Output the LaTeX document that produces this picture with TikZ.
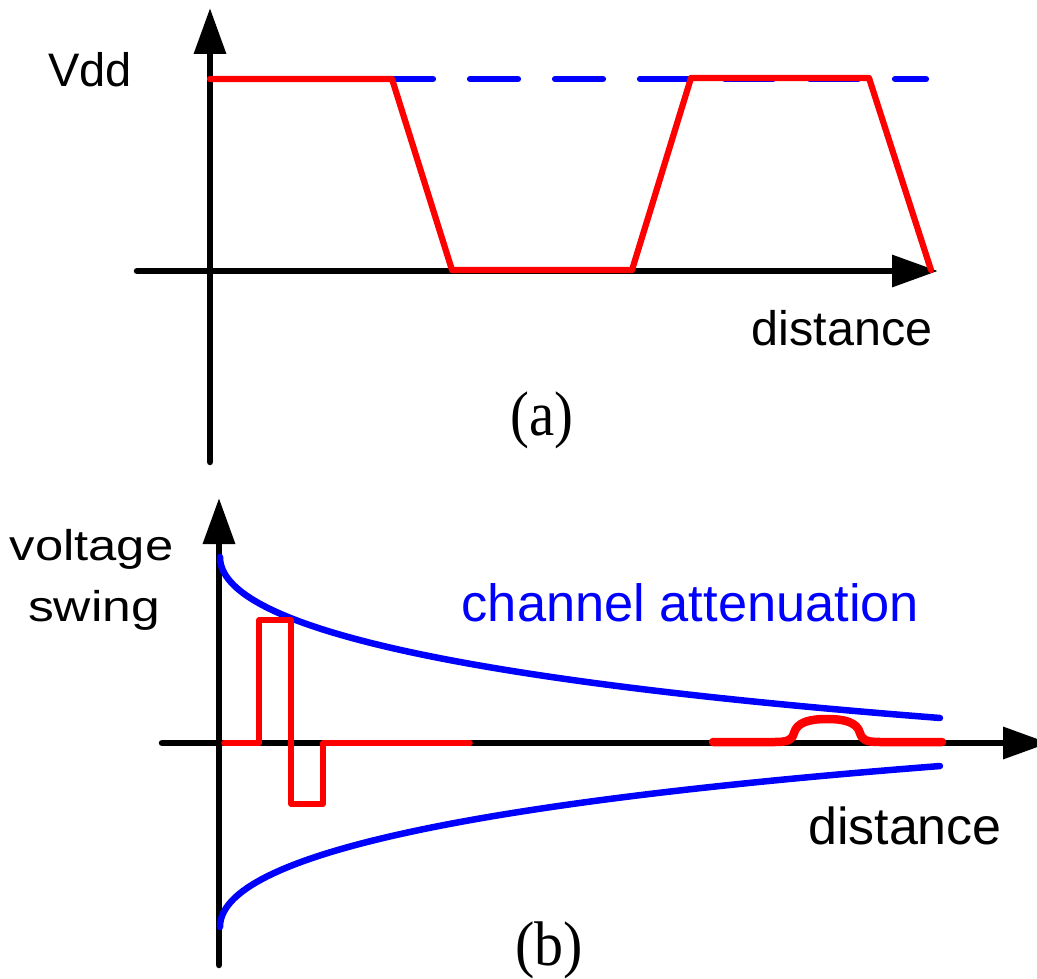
\documentclass[tikz,border=0pt]{standalone}
\usepackage{graphicx}
\usepackage{fontspec}
\setmainfont{Liberation Serif}
\newfontfamily\arialf{Liberation Sans}
\usetikzlibrary{arrows.meta}
\begin{document}
\begin{tikzpicture}[x=1pt,y=-1pt,
  axisline/.style={line width=6.5pt, line cap=round, -{Triangle[length=46pt,width=31pt]}},
  redsig/.style={draw=red, line width=6.2pt, line cap=round, line join=round},
  redthin/.style={draw=red, line width=5.5pt, line cap=round, line join=round},
  redthick/.style={draw=red, line width=8.5pt, line cap=round, line join=round},
  bluecurve/.style={draw=blue, line width=6.5pt, line cap=round},
  bluedash/.style={draw=blue, line width=6.2pt, line cap=round, dash pattern=on 48pt off 37pt},
  lbl/.style={anchor=base, inner sep=0pt, font=\arialf},
  captionlbl/.style={anchor=base, inner sep=0pt}
]
\useasboundingbox (0,0) rectangle (1037,979);

% ---------- panel (a) ----------
\coordinate (ay0) at (210,462);
\coordinate (ay1) at (210,8);
\coordinate (ax0) at (137,271);
\coordinate (ax1) at (938,271);
\draw[axisline] (ay0) -- (ay1);
\draw[axisline] (ax0) -- (ax1);

\coordinate (vd0) at (215,79);
\coordinate (vd1) at (926,79);
\draw[bluedash] (vd0) -- (vd1);

\draw[redsig] (210,79) -- (392,79) -- (452,270) -- (632,270) -- (691,78) -- (869,78) -- (931,270);

\node[lbl, font=\arialf\fontsize{47}{56}\selectfont] (vdd) at (90,87) {Vdd};
\node[lbl, font=\arialf\fontsize{48.5}{58}\selectfont] (dista) at (842,345) {distance};
\node[captionlbl, font=\fontsize{63}{70}\selectfont] (capa) at (542,435) {\scalebox{0.9}[1]{(a)}};

% ---------- panel (b) ----------
\coordinate (by0) at (219,965);
\coordinate (by1) at (219,498);
\coordinate (bx0) at (162,743);
\coordinate (bx1) at (1049,743);
\draw[axisline] (by0) -- (by1);
\draw[axisline] (bx0) -- (bx1);

\draw[bluecurve] plot[domain=0:26.833, samples=120, variable=\s]
  ({220+\s*\s},{743-(186-7.84*\s+0.0686*\s*\s)});
\draw[bluecurve] plot[domain=0:26.833, samples=120, variable=\s]
  ({220+\s*\s},{743+(184-7.84*\s+0.0686*\s*\s)});

\draw[redthin] (224,743) -- (259,743) -- (259,620) -- (291,620) -- (291,804) -- (323,804) -- (323,743) -- (470,743);

\draw[redthick] (713,742) -- (775,742) .. controls (788,742) and (792,740) .. (794,733)
  .. controls (797,722) and (810,719) .. (827,719)
  .. controls (844,719) and (857,722) .. (860,733)
  .. controls (862,740) and (866,742) .. (880,742) -- (942,742);

\node[lbl, font=\arialf\fontsize{43}{50}\selectfont] (volt) at (91.5,560) {\scalebox{1.18}[1]{voltage}};
\node[lbl, font=\arialf\fontsize{43}{50}\selectfont] (swing) at (94,621) {\scalebox{1.2}[1]{swing}};
\node[lbl, text=blue, font=\arialf\fontsize{52.4}{62}\selectfont] (chan) at (690.5,621) {channel attenuation};
\node[lbl, font=\arialf\fontsize{52}{62}\selectfont] (distb) at (905,844) {distance};
\node[captionlbl, font=\fontsize{63}{70}\selectfont] (capb) at (549,965) {\scalebox{0.92}[1]{(b)}};
\end{tikzpicture}
\end{document}
